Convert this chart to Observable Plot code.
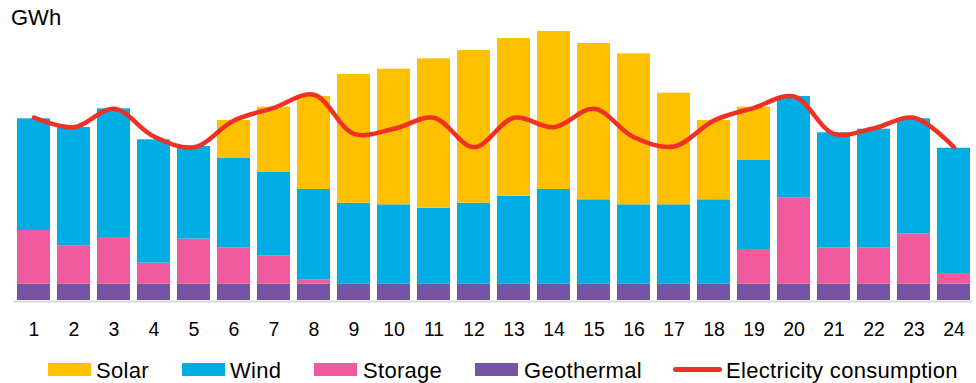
<!DOCTYPE html>
<html>
<head>
<meta charset="utf-8">
<script src="https://cdn.jsdelivr.net/npm/d3@7"></script>
<script src="https://cdn.jsdelivr.net/npm/@observablehq/plot@0.6"></script>
<style>
  html, body { margin: 0; padding: 0; background: #fff; }
  #wrap { position: relative; width: 976px; height: 383px; font-family: "Liberation Sans", Arial, sans-serif; color: #000; }
  #unit { position: absolute; left: 11px; top: 5px; font-size: 22px; line-height: normal; }
  #chart { position: absolute; left: 0; top: 0; }
  .lg { position: absolute; }
  .sw { position: absolute; top: 363px; height: 13px; width: 43px; }
  .lt { position: absolute; top: 358px; font-size: 22px; line-height: normal; letter-spacing: 0.3px; white-space: nowrap; }
  .ln { position: absolute; top: 367px; height: 4.5px; width: 49px; border-radius: 3px; }
</style>
</head>
<body>
<div id="wrap">
  <div id="chart"></div>
  <div id="unit">GWh</div>
  <div id="legend"></div>
</div>
<script>
const hours = [1, 2, 3, 4, 5, 6, 7, 8, 9, 10, 11, 12, 13, 14, 15, 16, 17, 18, 19, 20, 21, 22, 23, 24];
const solar = [0, 0, 0, 0, 0, 3.8, 6.53, 9.3, 12.87, 13.56, 14.94, 15.27, 15.77, 15.8, 15.63, 15.1, 11.16, 7.93, 5.33, 0, 0, 0, 0, 0];
const wind = [11.17, 11.83, 12.87, 12.34, 9.27, 8.93, 8.33, 9.07, 8.1, 7.94, 7.6, 8.1, 8.8, 9.47, 8.44, 7.94, 7.94, 8.44, 8.9, 10.13, 11.5, 11.86, 11.5, 12.53];
const storage = [5.37, 3.84, 4.67, 2.1, 4.5, 3.64, 2.84, 0.4, 0, 0, 0, 0, 0, 0, 0, 0, 0, 0, 3.47, 8.64, 3.64, 3.64, 5.04, 1.07];
const geothermal = [1.63, 1.63, 1.63, 1.63, 1.63, 1.63, 1.63, 1.63, 1.63, 1.63, 1.63, 1.63, 1.63, 1.63, 1.63, 1.63, 1.63, 1.63, 1.63, 1.63, 1.63, 1.63, 1.63, 1.63];
const consumption = [18.3, 17.33, 19.17, 16.4, 15.33, 18.0, 19.27, 20.57, 16.67, 17.17, 18.27, 15.33, 18.27, 17.33, 19.17, 16.33, 15.4, 18.0, 19.27, 20.4, 16.67, 17.23, 18.27, 15.33];

const seriesNames = ["Solar", "Wind", "Storage", "Geothermal"];
const seriesColors = ["#FFC000", "#00AEE3", "#EF5B9C", "#7654A4"];
const lineName = "Electricity consumption";
const lineColor = "#EE3124";
const unitLabel = "GWh";

const seriesValues = {Solar: solar, Wind: wind, Storage: storage, Geothermal: geothermal};
const stackOrder = ["Geothermal", "Storage", "Wind", "Solar"];
const rows = [];
for (const s of stackOrder) {
  hours.forEach((h, i) => rows.push({hour: h, series: s, value: seriesValues[s][i]}));
}
const lineRows = hours.map((h, i) => ({hour: h, value: consumption[i]}));

document.getElementById("unit").textContent = unitLabel;

const chart = Plot.plot({
  width: 976,
  height: 345,
  marginLeft: 13,
  marginRight: 3,
  marginTop: 20,
  marginBottom: 45,
  style: {fontFamily: "'Liberation Sans', Arial, sans-serif", fontSize: "19.5px", color: "#000", background: "transparent"},
  x: {type: "band", domain: hours, paddingInner: 0.18, paddingOuter: 0.09, tickSize: 0, tickPadding: 22, label: null},
  y: {domain: [0, 28], axis: null},
  color: {domain: seriesNames, range: seriesColors},
  marks: [
    Plot.barY(rows, Plot.stackY({x: "hour", y: "value", fill: "series", order: stackOrder})),
    Plot.ruleY([0], {stroke: "#d9d9d9", strokeWidth: 2, dy: 1}),
    Plot.line(lineRows, {x: "hour", y: "value", stroke: lineColor, strokeWidth: 4.5, curve: "catmull-rom", strokeLinecap: "round", strokeLinejoin: "round"})
  ]
});
document.getElementById("chart").appendChild(chart);

// legend
const legend = document.getElementById("legend");
const swLefts = [48, 182, 314, 475];
const txLefts = [96, 230, 363, 524];
seriesNames.forEach((name, i) => {
  const sw = document.createElement("div");
  sw.className = "sw";
  sw.style.left = swLefts[i] + "px";
  sw.style.background = seriesColors[i];
  legend.appendChild(sw);
  const t = document.createElement("div");
  t.className = "lt";
  t.style.left = txLefts[i] + "px";
  t.textContent = name;
  legend.appendChild(t);
});
const ln = document.createElement("div");
ln.className = "ln";
ln.style.left = "673px";
ln.style.background = lineColor;
legend.appendChild(ln);
const lt = document.createElement("div");
lt.className = "lt";
lt.style.left = "726px";
lt.textContent = lineName;
legend.appendChild(lt);
</script>
</body>
</html>
